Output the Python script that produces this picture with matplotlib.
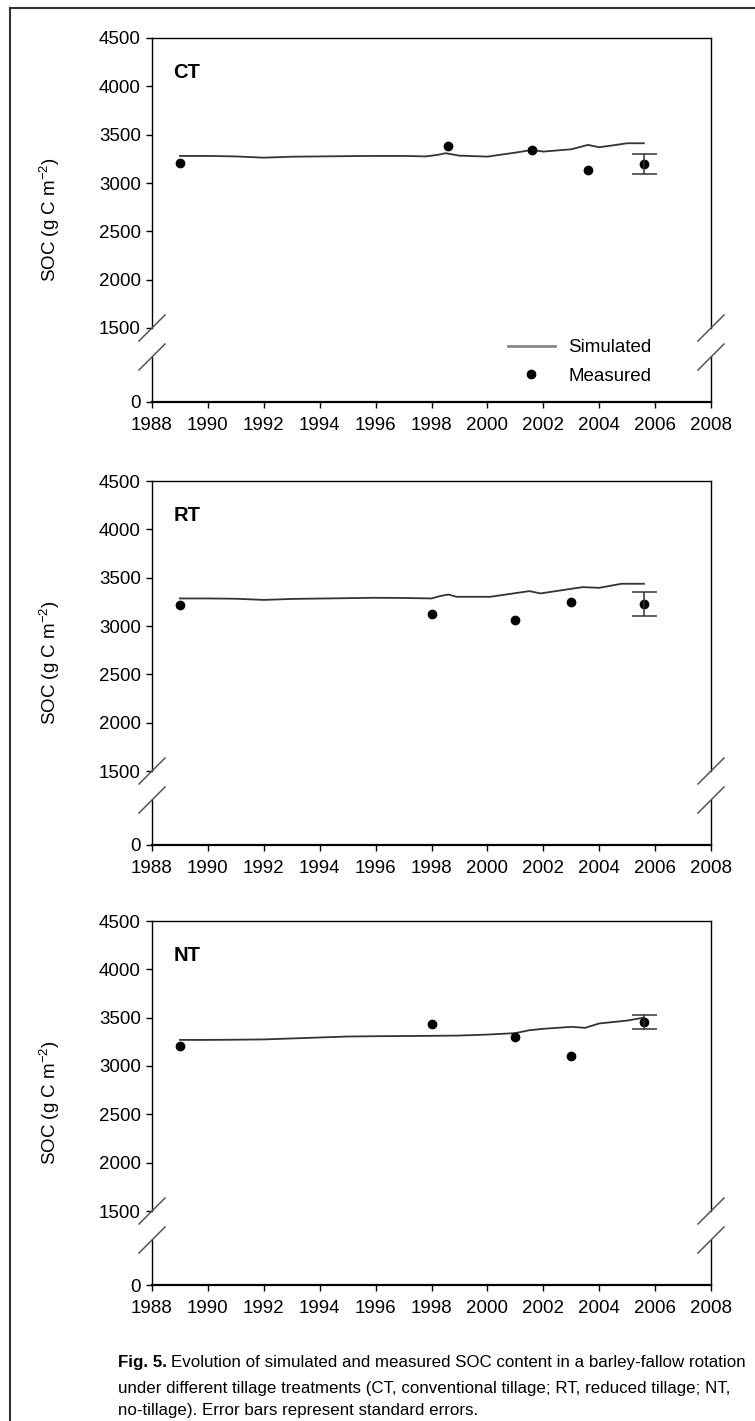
import numpy as np
import matplotlib.pyplot as plt
from matplotlib.lines import Line2D

plt.rcParams['font.family'] = ['Liberation Sans', 'DejaVu Sans']
plt.rcParams['mathtext.fontset'] = 'custom'
plt.rcParams['mathtext.rm'] = 'Liberation Sans'

# simulated SOC (g C m-2)
ct_sim_years = [1989, 1990, 1991, 1992, 1993, 1994, 1995, 1996, 1997, 1997.8, 1998.2,
                1998.5, 1999, 2000, 2001, 2001.6, 2002, 2003, 2003.6, 2004, 2004.6,
                2005, 2005.6]
ct_sim = [3280, 3280, 3275, 3262, 3272, 3275, 3278, 3280, 3280, 3275, 3290,
          3308, 3283, 3273, 3314, 3342, 3325, 3349, 3394, 3370, 3394, 3411, 3411]

rt_sim_years = [1989, 1990, 1991, 1992, 1993, 1994, 1995, 1996, 1997, 1998, 1998.3,
                1998.6, 1998.9, 2000.1, 2001.5, 2001.9, 2003.4, 2004.0, 2004.8, 2005.6]
rt_sim = [3285, 3285, 3282, 3270, 3280, 3284, 3288, 3292, 3290, 3285, 3309,
          3326, 3302, 3302, 3361, 3337, 3402, 3395, 3437, 3437]

nt_sim_years = [1989, 1990, 1991, 1992, 1993, 1994, 1995, 1996, 1997, 1998, 1999,
                2000, 2001, 2001.5, 2002, 2003, 2003.5, 2004, 2005, 2005.6]
nt_sim = [3270, 3270, 3272, 3275, 3285, 3295, 3305, 3308, 3310, 3312, 3315,
          3325, 3340, 3370, 3385, 3405, 3395, 3440, 3470, 3500]

# measured SOC and standard errors
ct_meas_years = [1989, 1998.6, 2001.6, 2003.6, 2005.6]
ct_meas = [3210, 3385, 3340, 3130, 3200]
ct_err = [np.nan, np.nan, np.nan, np.nan, 105]

rt_meas_years = [1989, 1998.0, 2001.0, 2003.0, 2005.6]
rt_meas = [3216, 3126, 3057, 3250, 3225]
rt_err = [np.nan, np.nan, np.nan, np.nan, 125]

nt_meas_years = [1989, 1998.0, 2001.0, 2003.0, 2005.6]
nt_meas = [3210, 3430, 3305, 3100, 3455]
nt_err = [np.nan, np.nan, np.nan, np.nan, 75]

xticks = list(range(1988, 2009, 2))
yticks = [1500, 2000, 2500, 3000, 3500, 4000, 4500]

caption_bold = 'Fig. 5.'
caption_lines = [
    'Evolution of simulated and measured SOC content in a barley-fallow rotation',
    'under different tillage treatments (CT, conventional tillage; RT, reduced tillage; NT,',
    'no-tillage). Error bars represent standard errors.',
]

W, H = 755, 1421
fig = plt.figure(figsize=(W / 100, H / 100), dpi=100)


def fx(px):
    return px / W


def fy(py):
    return 1 - py / H


FS = 13.5
LEFT, RIGHT = 152, 711


def brk(x, y):
    fig.add_artist(Line2D([fx(x - 13), fx(x + 13)], [fy(y + 13), fy(y - 13)],
                          color='#555555', lw=1.1, transform=fig.transFigure))


def panel(top, sim_years, sim, meas_years, meas, err, name, legend=False):
    y1500 = top + 290
    low_top = top + 319
    bot = top + 364
    ax = fig.add_axes([fx(LEFT), fy(y1500), fx(RIGHT) - fx(LEFT), (y1500 - top) / H])
    axb = fig.add_axes([fx(LEFT), fy(bot), fx(RIGHT) - fx(LEFT), (bot - low_top) / H])

    ax.plot(sim_years, sim, color='#333333', lw=1.3)
    ax.plot(meas_years, meas, 'o', color='black', ms=6)
    ax.errorbar(meas_years, meas, yerr=err, fmt='none', ecolor='#333333',
                elinewidth=1.1, capsize=9, capthick=1.1)

    ax.set_xlim(1988, 2008)
    ax.set_ylim(1500, 4500)
    ax.set_yticks(yticks)
    ax.set_xticks([])
    ax.spines['bottom'].set_visible(False)
    ax.tick_params(axis='y', direction='out', length=4, width=1, labelsize=FS, pad=4)

    axb.set_xlim(1988, 2008)
    axb.set_ylim(0, (bot - low_top) / 48.4 * 500)
    axb.set_yticks([0])
    axb.set_xticks(xticks)
    axb.spines['top'].set_visible(False)
    axb.tick_params(axis='y', direction='out', length=4, width=1, labelsize=FS, pad=4)
    axb.tick_params(axis='x', direction='out', length=4, width=1, labelsize=FS, pad=7)
    axb.spines['bottom'].set_linewidth(1.6)
    for a in (ax, axb):
        for s in ('left', 'right', 'top'):
            a.spines[s].set_linewidth(1.0)
        a.patch.set_alpha(0)

    for x in (LEFT, RIGHT):
        brk(x, y1500)
        brk(x, low_top)

    ax.text(0.038, 0.88, name, transform=ax.transAxes, fontsize=14.5,
            fontweight='bold', va='center', ha='left')
    fig.text(fx(50), fy(top + 182), 'SOC (g C m$^{-2}$)', rotation=90,
             va='center', ha='center', fontsize=FS)

    if legend:
        handles = [Line2D([], [], color='#888888', lw=2),
                   Line2D([], [], marker='o', ls='none', color='black', ms=6)]
        fig.legend(handles, ['Simulated', 'Measured'], loc='center left',
                   bbox_to_anchor=(fx(508), fy(362)), frameon=False,
                   borderaxespad=0, borderpad=0, handlelength=2.5,
                   handletextpad=0.7, labelspacing=0.6, fontsize=FS)


panel(38, ct_sim_years, ct_sim, ct_meas_years, ct_meas, ct_err, 'CT', legend=True)
panel(481, rt_sim_years, rt_sim, rt_meas_years, rt_meas, rt_err, 'RT')
panel(921, nt_sim_years, nt_sim, nt_meas_years, nt_meas, nt_err, 'NT')

# outer frame
fig.add_artist(Line2D([fx(10), fx(10)], [fy(8), 0], color='#333333', lw=1.5,
                      transform=fig.transFigure))
fig.add_artist(Line2D([fx(10), 1], [fy(8), fy(8)], color='#333333', lw=1.5,
                      transform=fig.transFigure))

# caption, sized so the first line runs from x=118 to x=745
fig.canvas.draw()
r = fig.canvas.get_renderer()
CFS = 12
t = fig.text(fx(118), fy(1363), caption_bold, fontsize=CFS, fontweight='bold',
             va='center', ha='left')
t1 = fig.text(0, fy(1363), caption_lines[0], fontsize=CFS, va='center', ha='left')
w_bold = t.get_window_extent(renderer=r).width
w1 = t1.get_window_extent(renderer=r).width
scale = (745 - 118) / (w_bold + 4 + w1)
CFS = CFS * scale
t.set_fontsize(CFS)
t1.set_fontsize(CFS)
bb = t.get_window_extent(renderer=r)
t1.set_x(bb.x1 / W + fx(4))
fig.text(fx(118), fy(1388), caption_lines[1], fontsize=CFS, va='center', ha='left')
fig.text(fx(118), fy(1411), caption_lines[2], fontsize=CFS, va='center', ha='left')

fig.savefig('out.png', dpi=100)
